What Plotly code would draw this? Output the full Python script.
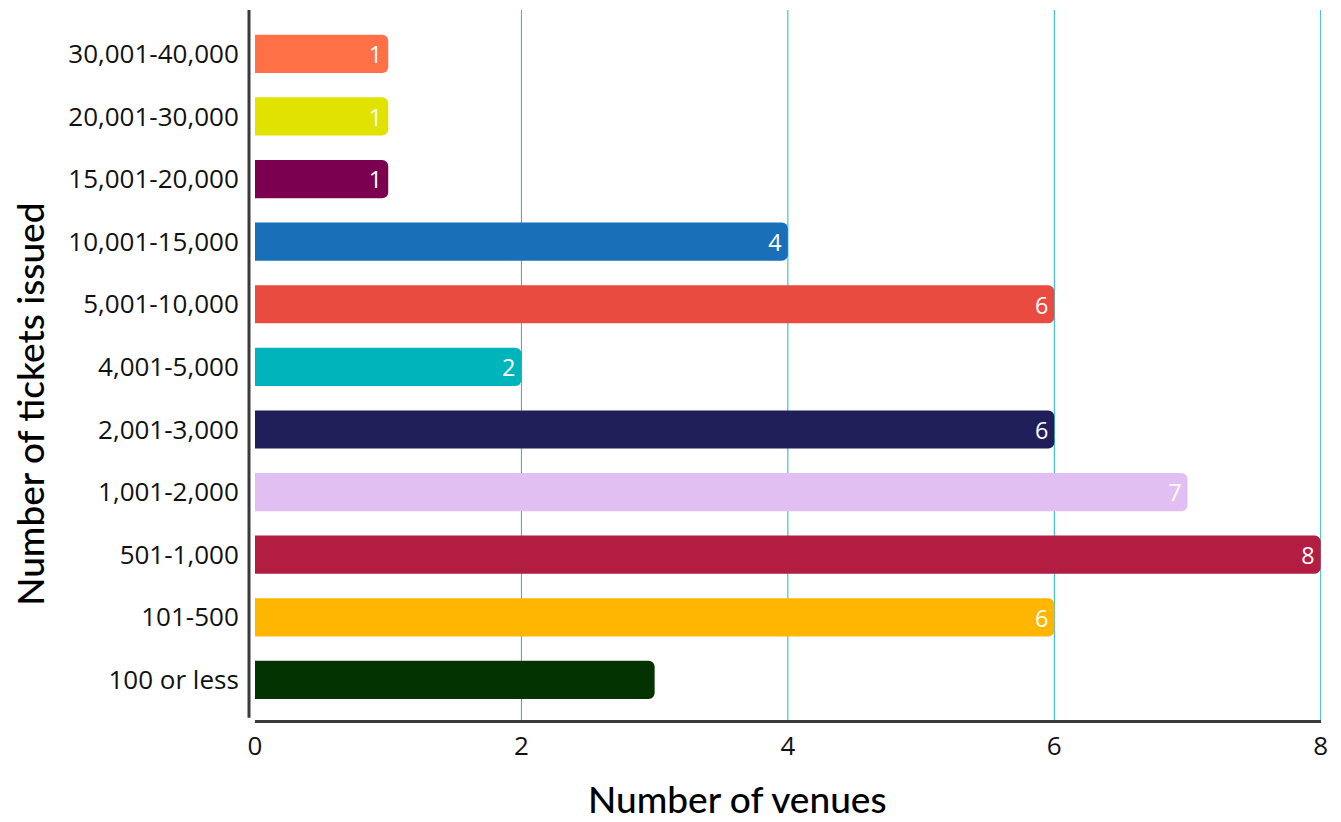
import plotly.graph_objects as go

# Ticket bands, listed bottom to top as they appear on the axis
bands = [
    "100 or less", "101-500", "501-1,000", "1,001-2,000", "2,001-3,000",
    "4,001-5,000", "5,001-10,000", "10,001-15,000", "15,001-20,000",
    "20,001-30,000", "30,001-40,000",
]
venues = [3, 6, 8, 7, 6, 2, 6, 4, 1, 1, 1]
value_labels = ["", "6", "8", "7", "6", "2", "6", "4", "1", "1", "1"]
bar_colors = [
    "#023300", "#ffb600", "#b31d41", "#e1bff3", "#201f5a",
    "#00b4bc", "#ea4b40", "#1a70b8", "#7b004f", "#e2e200", "#ff7047",
]
x_ticks = [0, 2, 4, 6, 8]

tick_font = dict(family="Open Sans", size=26, color="#111111")
title_font = dict(family="Lato", size=37, color="#000000", weight=500)
grid_color = "#1ab8c9"

fig = go.Figure(
    go.Bar(
        y=bands,
        x=venues,
        orientation="h",
        marker=dict(color=bar_colors, line=dict(width=0)),
        text=value_labels,
        textposition="inside",
        insidetextanchor="end",
        textangle=0,
        textfont=dict(family="Open Sans", size=24, color="#ffffff"),
        constraintext="none",
        hoverinfo="x+y",
    )
)

# vertical grid lines at every non-zero tick, kept beneath the bars
grid_lines = [
    dict(
        type="line", xref="x", x0=v, x1=v, yref="paper", y0=0, y1=1,
        line=dict(color=grid_color, width=1), layer="below",
    )
    for v in x_ticks if v != 0
]

axis_lines = [
    # vertical axis line, set slightly left of the bars
    dict(
        type="line", xref="paper", xsizemode="pixel", xanchor=0,
        x0=-6, x1=-6, yref="paper", y0=0.003, y1=1,
        line=dict(color="#3a3a3a", width=3),
    ),
    # horizontal axis line just below the plotting area
    dict(
        type="line", xref="paper", x0=0, x1=1,
        yref="paper", ysizemode="pixel", yanchor=0, y0=-1.5, y1=-1.5,
        line=dict(color="#3a3a3a", width=3),
    ),
]

fig.update_layout(
    width=1341,
    height=822,
    margin=dict(l=255, r=20, t=10, b=102),
    plot_bgcolor="#ffffff",
    paper_bgcolor="#ffffff",
    bargap=0.39,
    barcornerradius=6,
    showlegend=False,
    xaxis=dict(
        range=[0, 8.002],
        tickvals=x_ticks,
        ticktext=[str(v) for v in x_ticks],
        tickfont=tick_font,
        ticks="outside",
        ticklen=3,
        tickcolor="rgba(0,0,0,0)",
        showgrid=False,
        zeroline=False,
        showline=False,
    ),
    yaxis=dict(
        categoryorder="array",
        categoryarray=bands,
        range=[-0.64, 10.7],
        tickfont=tick_font,
        ticks="outside",
        ticklen=10,
        tickcolor="rgba(0,0,0,0)",
        showgrid=False,
        zeroline=False,
        showline=False,
    ),
    annotations=[
        dict(
            text="Number of venues", font=title_font, showarrow=False,
            xref="paper", yref="paper", x=0.453, y=-0.110,
            xanchor="center", yanchor="middle",
        ),
        dict(
            text="Number of tickets issued", font=title_font, showarrow=False,
            textangle=-90, xref="paper", yref="paper",
            xanchor="center", yanchor="middle",
            x=-0.211, y=0.444,
        ),
    ],
    shapes=grid_lines + axis_lines,
)

fig.write_html("out.html")
